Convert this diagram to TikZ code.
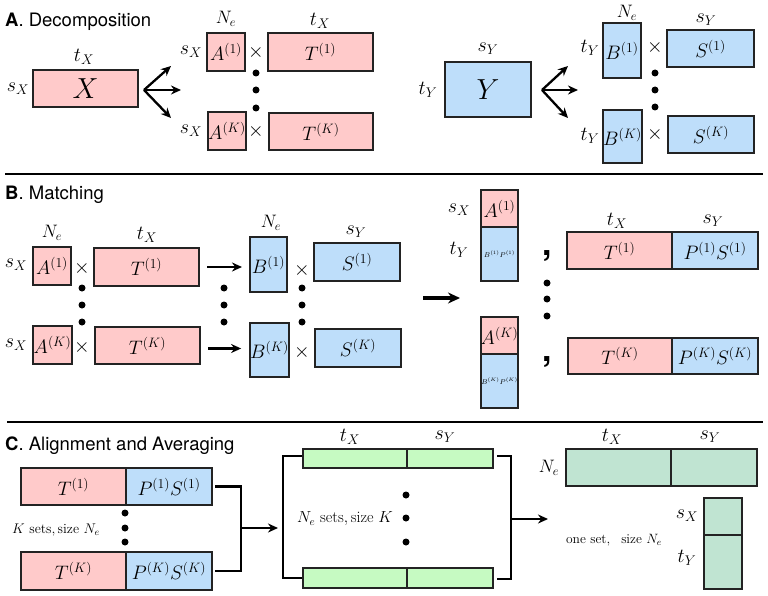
\RequirePackage{fix-cm}
\documentclass[tikz,border=0pt]{standalone}
\usepackage{fontspec}
\newfontfamily\hel{TeX Gyre Heros}
\usetikzlibrary{arrows.meta}
\definecolor{pk}{RGB}{255,202,202}
\definecolor{bl}{RGB}{190,222,250}
\definecolor{gr}{RGB}{198,250,194}
\definecolor{tl}{RGB}{192,228,210}
\definecolor{edge}{RGB}{35,35,35}
\newcommand\bx[7]{\node[#2, minimum width={(#5-#3)*1pt}, minimum height={(#6-#4)*1pt}] (#1) at ({(#3+#5)/2},{(#4+#6)/2}) {#7};}
\tikzset{
  box/.style={draw=edge, line width=1.8pt, inner sep=0pt, outer sep=0pt, font=\fontsize{19.5}{21}\selectfont},
  pbox/.style={box, fill=pk},
  bbox/.style={box, fill=bl},
  gbox/.style={box, fill=gr},
  tbox/.style={box, fill=tl},
  lab/.style={inner sep=0pt, font=\fontsize{20}{22}\selectfont},
  nel/.style={inner sep=0pt, font=\fontsize{18}{20}\selectfont},
  small/.style={inner sep=0pt, font=\fontsize{14}{16}\selectfont},
  title/.style={inner sep=0pt, anchor=base west, font=\hel\fontsize{18.5}{20}\selectfont},
  dot/.style={circle, fill=black, inner sep=0pt, minimum size=7pt},
  arr/.style={line width=2.3pt, -{Stealth[length=10pt,width=9pt]}},
  bigarr/.style={line width=3.2pt, -{Stealth[length=12pt,width=11pt]}},
  brk/.style={line width=2.3pt},
  sep/.style={line width=2.6pt},
  comma/.style={inner sep=0pt, anchor=base, font=\hel\bfseries\fontsize{34}{36}\selectfont}
}
\newcommand\tinytxt{\fontsize{7}{8}\selectfont}
\newcommand\bigtxt{\fontsize{29}{31}\selectfont}
\begin{document}
\begin{tikzpicture}[x=1pt,y=-1pt]
\useasboundingbox (0,0) rectangle (768,596);
% ---------- A ----------
\node[title] (tA) at (5,27) {{\bfseries A}. Decomposition};
\bx{X}{pbox}{33}{70}{138}{107}{\bigtxt$X$}
\node[lab] (ltX) at (84,57) {$t_X$};
\node[lab] (lsX) at (18,89) {$s_X$};
\coordinate (fo) at (144,90);
\coordinate (fa) at (171,66);
\coordinate (fb) at (181,90);
\coordinate (fc) at (171,118);
\draw[arr] (fo) -- (fa);
\draw[arr] (fo) -- (fb);
\draw[arr] (fo) -- (fc);
\bx{A1}{pbox}{207}{33}{245}{71}{$A^{(1)}$}
\bx{AK}{pbox}{208}{112}{246}{150}{$A^{(K)}$}
\bx{T1}{pbox}{268}{33}{373}{71}{$T^{(1)}$}
\bx{TK}{pbox}{269}{113}{373}{150}{$T^{(K)}$}
\node[lab] (a1s) at (191,52) {$s_X$};
\node[lab] (aks) at (191,131) {$s_X$};
\node[lab] (a1x) at (256,53) {$\times$};
\node[lab] (akx) at (256,132) {$\times$};
\node[dot] (ad1) at (256,73) {};
\node[dot] (ad2) at (256,90) {};
\node[dot] (ad3) at (256,108) {};
\node[nel] (aNe) at (226,19) {$N_e$};
\node[lab] (atX) at (320,21) {$t_X$};
% Y side
\bx{Y}{bbox}{445}{62}{531}{117}{\bigtxt$Y$}
\node[lab] (ltY) at (428,90) {$t_Y$};
\node[lab] (lsY) at (488,49) {$s_Y$};
\coordinate (go) at (542,90);
\coordinate (ga) at (568,66);
\coordinate (gb) at (578,90);
\coordinate (gc) at (568,118);
\draw[arr] (go) -- (ga);
\draw[arr] (go) -- (gb);
\draw[arr] (go) -- (gc);
\bx{B1}{bbox}{603}{23}{641}{78}{$B^{(1)}$}
\bx{BK}{bbox}{604}{110}{641}{163}{$B^{(K)}$}
\bx{S1}{bbox}{667}{30}{754}{67}{$S^{(1)}$}
\bx{SK}{bbox}{668}{116}{754}{153}{$S^{(K)}$}
\node[lab] (b1t) at (590,48) {$t_Y$};
\node[lab] (bkt) at (590,136) {$t_Y$};
\node[lab] (b1x) at (655,48) {$\times$};
\node[lab] (bkx) at (655,135) {$\times$};
\node[dot] (bd1) at (655,73) {};
\node[dot] (bd2) at (655,90) {};
\node[dot] (bd3) at (655,107) {};
\node[nel] (bNe) at (627,13) {$N_e$};
\node[lab] (bsY) at (706,20) {$s_Y$};
\coordinate (s1a) at (5,174);
\coordinate (s1b) at (763,174);
\draw[sep] (s1a) -- (s1b);
% ---------- B ----------
\node[title] (tB) at (5,200) {{\bfseries B}. Matching};
\bx{mA1}{pbox}{33}{247}{71}{285}{$A^{(1)}$}
\bx{mAK}{pbox}{33}{326}{72}{364}{$A^{(K)}$}
\node[lab] (m1s) at (16,265) {$s_X$};
\node[lab] (mks) at (16,345) {$s_X$};
\node[nel] (mNe) at (52,233) {$N_e$};
\node[lab] (m1x) at (82,268) {$\times$};
\node[lab] (mkx) at (82,347) {$\times$};
\node[dot] (md1) at (82,288) {};
\node[dot] (md2) at (82,305) {};
\node[dot] (md3) at (82,322) {};
\bx{mT1}{pbox}{94}{248}{199}{286}{$T^{(1)}$}
\bx{mTK}{pbox}{95}{327}{200}{364}{$T^{(K)}$}
\node[lab] (mtX) at (147,235) {$t_X$};
\node[dot] (me1) at (224,288) {};
\node[dot] (me2) at (224,305) {};
\node[dot] (me3) at (224,322) {};
\bx{mB1}{bbox}{250}{237}{287}{292}{$B^{(1)}$}
\bx{mBK}{bbox}{251}{323}{288}{377}{$B^{(K)}$}
\draw[arr, shorten <=8pt, shorten >=8pt] (mT1.east) -- (mT1.east -| mB1.west);
\draw[arr, shorten <=8pt, shorten >=9pt] ([yshift=-3pt]mTK.east) -- ([yshift=-3pt]mTK.east -| mBK.west);
\node[nel] (mNe2) at (271,223) {$N_e$};
\node[lab] (m1x2) at (302,270) {$\times$};
\node[lab] (mkx2) at (302,352) {$\times$};
\node[dot] (mf1) at (302,288) {};
\node[dot] (mf2) at (302,305) {};
\node[dot] (mf3) at (302,322) {};
\bx{mS1}{bbox}{314}{243}{400}{281}{$S^{(1)}$}
\bx{mSK}{bbox}{315}{329}{401}{367}{$S^{(K)}$}
\node[lab] (msY) at (356,232) {$s_Y$};
\coordinate (ba) at (423,298);
\coordinate (bb) at (460,298);
\draw[bigarr] (ba) -- (bb);
\bx{cA1}{pbox}{481}{190}{518}{227}{$A^{(1)}$}
\bx{cB1}{bbox}{481}{227}{518}{281}{\tinytxt$B^{(1)}P^{(1)}$}
\bx{cAK}{pbox}{481}{317}{518}{354}{$A^{(K)}$}
\bx{cBK}{bbox}{481}{354}{518}{408}{\tinytxt$B^{(K)}P^{(K)}$}
\node[lab] (csX) at (459,210) {$s_X$};
\node[lab] (ctY) at (459,250) {$t_Y$};
\node[comma] (cm1) at (547,255) {,};
\node[comma] (cm2) at (547,361) {,};
\node[dot] (cd1) at (547,283) {};
\node[dot] (cd2) at (547,299) {};
\node[dot] (cd3) at (547,316) {};
\bx{rT1}{pbox}{567}{232}{672}{269}{$T^{(1)}$}
\bx{rP1}{bbox}{672}{232}{758}{269}{$P^{(1)}S^{(1)}$}
\bx{rTK}{pbox}{568}{338}{672}{374}{$T^{(K)}$}
\bx{rPK}{bbox}{672}{338}{758}{374}{$P^{(K)}S^{(K)}$}
\node[lab] (rtX) at (617,221) {$t_X$};
\node[lab] (rsY) at (713,221) {$s_Y$};
\coordinate (s2a) at (7,422);
\coordinate (s2b) at (763,422);
\draw[sep] (s2a) -- (s2b);
% ---------- C ----------
\node[title] (tC) at (5,450) {{\bfseries C}. Alignment and Averaging};
\bx{kT1}{pbox}{21}{468}{126}{505}{$T^{(1)}$}
\bx{kP1}{bbox}{126}{468}{212}{505}{$P^{(1)}S^{(1)}$}
\bx{kTK}{pbox}{21}{552}{126}{590}{$T^{(K)}$}
\bx{kPK}{bbox}{126}{552}{212}{590}{$P^{(K)}S^{(K)}$}
\node[small] (kl) at (56,530) {$K\ \mathrm{sets, size}\ N_e$};
\node[dot] (kd1) at (125,513) {};
\node[dot] (kd2) at (125,528) {};
\node[dot] (kd3) at (125,542) {};
\coordinate (kj) at (241,528);
\coordinate (ke) at (278,528);
\draw[brk] ([xshift=3pt]kP1.east) -| (kj) |- ([xshift=3pt]kPK.east);
\draw[arr] (kj) -- (ke);
\coordinate (lb1) at (302,456);
\coordinate (lb2) at (283,456);
\coordinate (lb3) at (283,578);
\coordinate (lb4) at (302,578);
\draw[brk] (lb1) -- (lb2) -- (lb3) -- (lb4);
\bx{g1L}{gbox}{303}{449}{407}{468}{}
\bx{g1R}{gbox}{407}{449}{493}{468}{}
\bx{gKL}{gbox}{303}{568}{407}{588}{}
\bx{gKR}{gbox}{407}{568}{493}{588}{}
\node[lab] (gtX) at (350,437) {$t_X$};
\node[lab] (gsY) at (445,437) {$s_Y$};
\node[small, font=\fontsize{16}{18}\selectfont] (gl) at (345,519) {$N_e\ \mathrm{sets, size}\ K$};
\node[dot] (gd1) at (406,495) {};
\node[dot] (gd2) at (406,518) {};
\node[dot] (gd3) at (406,542) {};
\coordinate (rb1) at (497,456);
\coordinate (rb2) at (511,456);
\coordinate (rb3) at (511,579);
\coordinate (rb4) at (497,579);
\draw[brk] (rb1) -- (rb2) -- (rb3) -- (rb4);
\coordinate (rj) at (511,519);
\coordinate (re) at (548,519);
\draw[arr] (rj) -- (re);
\bx{fT}{tbox}{566}{449}{671}{486}{}
\bx{fP}{tbox}{671}{449}{757}{486}{}
\node[nel] (fNe) at (549,468) {$N_e$};
\node[lab] (ftX) at (612,437) {$t_X$};
\node[lab] (fsY) at (710,437) {$s_Y$};
\bx{fA}{tbox}{704}{498}{742}{535}{}
\bx{fB}{tbox}{704}{535}{742}{589}{}
\node[lab] (fsX) at (687,516) {$s_X$};
\node[lab] (ftY) at (687,558) {$t_Y$};
\node[small, font=\fontsize{13.5}{15}\selectfont] (fl) at (614,540) {$\mathrm{one\ set,\ \ size}\ N_e$};
\end{tikzpicture}
\end{document}
